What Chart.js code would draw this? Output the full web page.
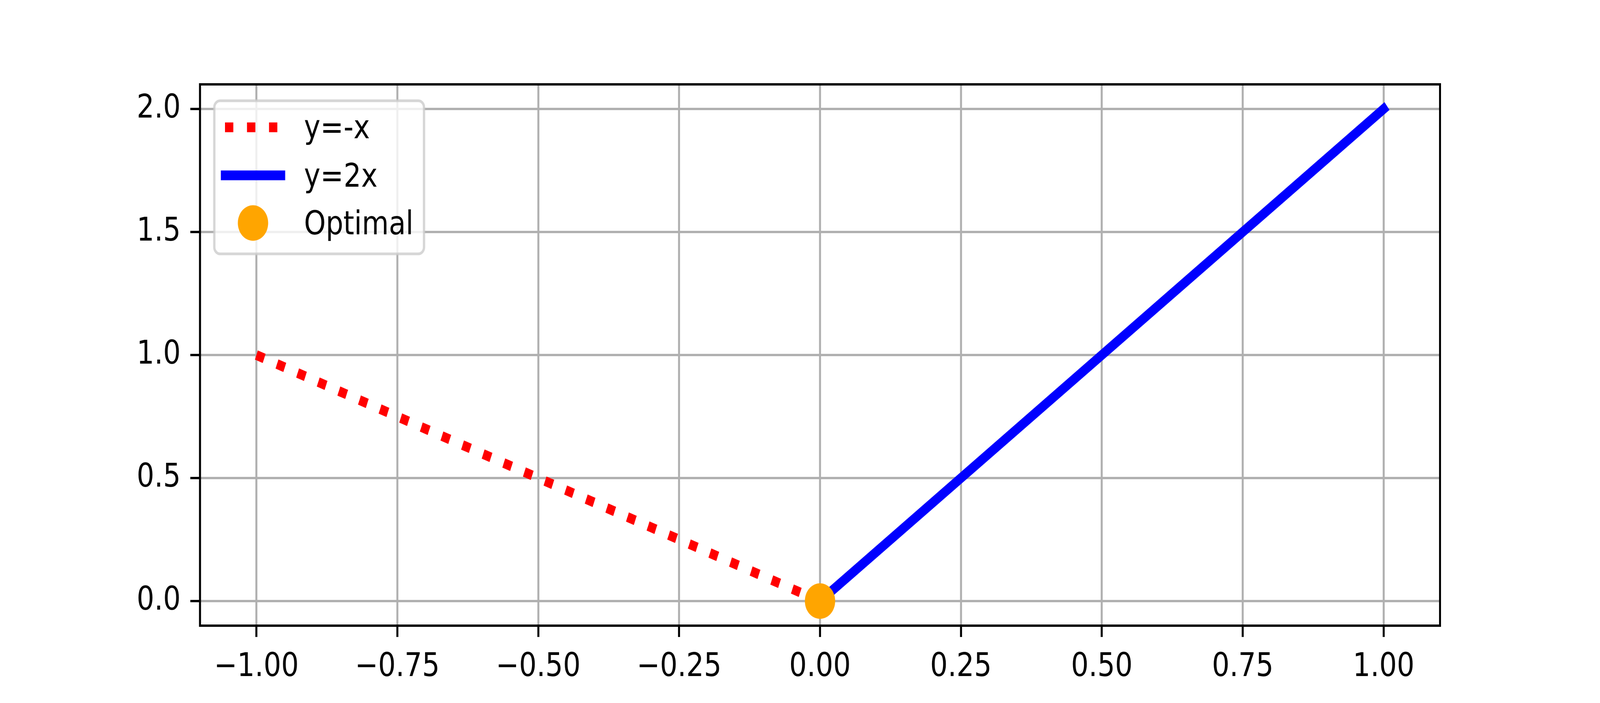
<!DOCTYPE html>
<html>
<head>
<meta charset="utf-8">
<script src="https://cdn.jsdelivr.net/npm/chart.js@4.4.0/dist/chart.umd.min.js"></script>
<style>
  html, body { margin: 0; padding: 0; background: #fff; overflow: hidden; }
</style>
</head>
<body>
<!-- drawn at 4800x1800, shown at whatever size the window is -->
<canvas id="chart" width="4800" height="1800" style="display:block;width:100vw;height:100vh"></canvas>
<script>
// Data
const seriesNames = ["y=-x", "y=2x", "Optimal"];
const negX = [-1, 0];
const negY = [1, 0];
const dblX = [0, 1];
const dblY = [0, 2];
const optX = [0];
const optY = [0];
const xTicks = [-1, -0.75, -0.5, -0.25, 0, 0.25, 0.5, 0.75, 1];
const yTicks = [0, 0.5, 1, 1.5, 2];

const FONT = "'DejaVu Sans', sans-serif";
const FS = 83;

function pts(xs, ys) {
  return xs.map((x, i) => ({ x: x, y: ys[i] }));
}

function minus(s) {
  return s.replace("-", "\u2212");
}

// top/right spines + legend box like matplotlib
const frameAndLegend = {
  id: "frameAndLegend",
  afterDatasetsDraw(chart) {
    const ctx = chart.ctx;
    const a = chart.chartArea;
    ctx.save();
    ctx.strokeStyle = "#000";
    ctx.lineWidth = 6;
    ctx.strokeRect(a.left, a.top, a.right - a.left, a.bottom - a.top);

    // legend frame
    ctx.beginPath();
    ctx.roundRect(643, 258, 629, 392, 17);
    ctx.fillStyle = "rgba(255,255,255,0.8)";
    ctx.fill();
    ctx.lineWidth = 7;
    ctx.strokeStyle = "rgba(204,204,204,0.8)";
    ctx.stroke();

    const ds = chart.data.datasets;
    const rowY = [326, 449, 571];
    const base = [354, 478, 600];

    // y=-x handle
    ctx.beginPath();
    ctx.setLineDash(ds[0].borderDash);
    ctx.lineCap = "butt";
    ctx.strokeStyle = ds[0].borderColor;
    ctx.lineWidth = ds[0].borderWidth;
    ctx.moveTo(675, rowY[0]);
    ctx.lineTo(843, rowY[0]);
    ctx.stroke();
    ctx.setLineDash([]);

    // y=2x handle
    ctx.beginPath();
    ctx.lineCap = "square";
    ctx.strokeStyle = ds[1].borderColor;
    ctx.lineWidth = ds[1].borderWidth;
    ctx.moveTo(675, rowY[1]);
    ctx.lineTo(843, rowY[1]);
    ctx.stroke();

    // Optimal handle
    ctx.beginPath();
    ctx.fillStyle = ds[2].backgroundColor;
    ctx.arc(759, rowY[2], ds[2].pointRadius, 0, Math.PI * 2);
    ctx.fill();

    ctx.fillStyle = "#000";
    ctx.font = FS + "px " + FONT;
    ctx.textAlign = "left";
    ctx.textBaseline = "alphabetic";
    ds.forEach((d, i) => ctx.fillText(d.label, 912, base[i]));
    ctx.restore();
  }
};

const gridOpts = { color: "#b0b0b0", lineWidth: 6, tickLength: 29, tickColor: "#000", tickWidth: 6 };
const borderOpts = { display: true, color: "#000", width: 6 };

const canvas = document.getElementById("chart");
const chart = new Chart(canvas.getContext("2d"), {
  type: "scatter",
  data: {
    datasets: [
      {
        label: seriesNames[0],
        data: pts(negX, negY),
        showLine: true,
        borderColor: "#ff0000",
        borderWidth: 25,
        borderDash: [25, 41],
        borderCapStyle: "butt",
        pointRadius: 0,
        order: 3
      },
      {
        label: seriesNames[1],
        data: pts(dblX, dblY),
        showLine: true,
        borderColor: "#0000ff",
        borderWidth: 25,
        borderCapStyle: "square",
        pointRadius: 0,
        order: 2
      },
      {
        label: seriesNames[2],
        data: pts(optX, optY),
        backgroundColor: "#ffa500",
        borderWidth: 0,
        pointRadius: 45.5,
        pointHoverRadius: 45.5,
        clip: false,
        order: 1
      }
    ]
  },
  options: {
    responsive: false,
    animation: false,
    devicePixelRatio: 1,
    layout: { padding: { left: 0, top: 216, right: 480, bottom: 0 } },
    plugins: {
      legend: { display: false },
      tooltip: { enabled: false }
    },
    scales: {
      x: {
        type: "linear",
        min: -1.1,
        max: 1.1,
        afterBuildTicks: s => { s.ticks = xTicks.map(v => ({ value: v })); },
        afterFit: s => { s.height = 198; },
        grid: gridOpts,
        border: borderOpts,
        ticks: {
          padding: 29,
          color: "#000",
          font: { family: FONT, size: FS },
          maxRotation: 0,
          autoSkip: false,
          callback: v => minus(Number(v).toFixed(2))
        }
      },
      y: {
        type: "linear",
        min: -0.1,
        max: 2.1,
        afterBuildTicks: s => { s.ticks = yTicks.map(v => ({ value: v })); },
        afterFit: s => { s.width = 600; },
        grid: gridOpts,
        border: borderOpts,
        ticks: {
          padding: 29,
          color: "#000",
          font: { family: FONT, size: FS },
          autoSkip: false,
          callback: v => minus(Number(v).toFixed(1))
        }
      }
    }
  },
  plugins: [frameAndLegend]
});

// chart.js may have written pixel sizes into the style, put the fit back
canvas.style.width = "100vw";
canvas.style.height = "100vh";
</script>
</body>
</html>
